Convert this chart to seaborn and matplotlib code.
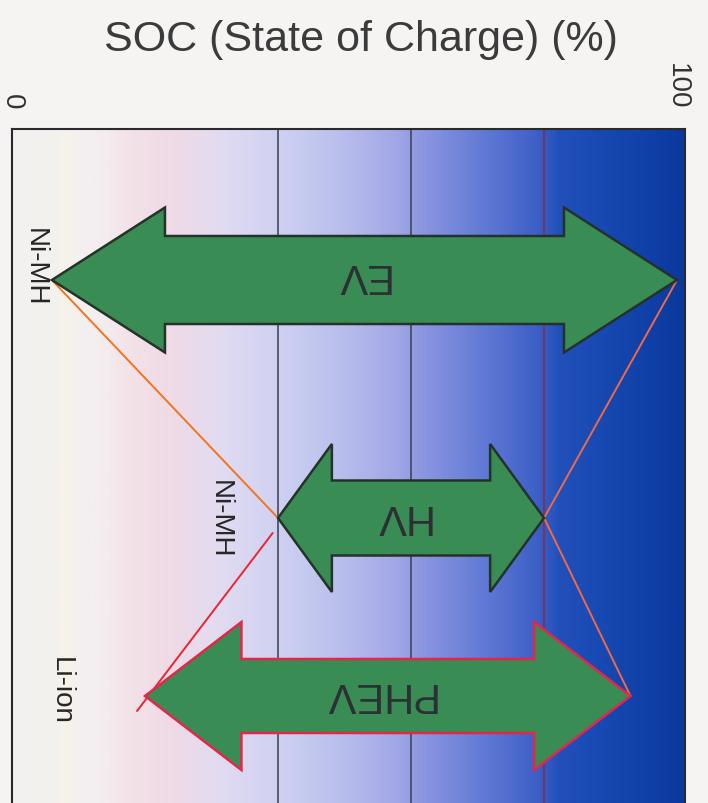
import numpy as np
import pandas as pd
import matplotlib
matplotlib.use("Agg")
import matplotlib.pyplot as plt
from matplotlib.colors import LinearSegmentedColormap
from matplotlib.patches import Polygon
import seaborn as sns

# --- data -------------------------------------------------------------
vehicles = ["EV", "HV", "PHEV"]
soc_low = [6, 40, 20]          # lower end of usable SOC window (%)
soc_high = [100, 80, 93]       # upper end of usable SOC window (%)
chemistry = ["Ni-MH", "Ni-MH", "Li-ion"]
grid_soc = [40, 60, 80]
tick_values = [0, 100]
tick_labels = ["0", "100"]

# --- layout / style ---------------------------------------------------
X_MAX = 101.2
Y_SPAN = 684
row_y = {"EV": 151, "HV": 389, "PHEV": 567}
head_len = {"EV": 17.0, "HV": 8.1, "PHEV": 14.5}
head_half = {"EV": 72.5, "HV": 74, "PHEV": 74}
shaft_half = {"EV": 44, "HV": 37.5, "PHEV": 37}
edge_col = {"EV": "#25322a", "HV": "#25322a", "PHEV": "#e5254a"}
chem_x = {"EV": 3.4, "HV": 31.3, "PHEV": 7.3}
chem_dy = {"EV": -14, "HV": 0, "PHEV": -6}
label_dx = {"EV": -0.6, "HV": -1.6, "PHEV": -1.4}
label_dy = {"EV": -6, "HV": -3, "PHEV": -3}
ARROW_GREEN = "#3a8c55"
TEXT_DARK = "#2c3035"

sns.set_theme(style="white")
plt.rcParams["font.family"] = ["Liberation Sans", "DejaVu Sans"]

fig = plt.figure(figsize=(7.08, 8.04), dpi=100)
fig.patch.set_facecolor("#f6f4f3")
ax = fig.add_axes([12 / 708, -10 / 804, 673 / 708, Y_SPAN / 804])

# background colour ramp across the SOC range
stops = [
    (0.0, "#f3f1f0"), (6.5, "#f4f1ee"), (8.0, "#f7f3ea"), (10.0, "#f3f0f0"),
    (14.0, "#f3ecee"), (18.0, "#f3e1e8"), (24.0, "#efdae6"), (31.0, "#e2dcf1"),
    (39.5, "#d0d1f2"), (44.0, "#c5caf0"), (51.0, "#b5baec"), (58.0, "#a0a6e6"),
    (62.0, "#8a95e0"), (69.0, "#6a80d8"), (79.0, "#3e60c8"), (82.5, "#2250bb"),
    (91.0, "#1546ae"), (97.0, "#0f3fa6"), (X_MAX, "#0a399c"),
]
cmap = LinearSegmentedColormap.from_list(
    "soc_ramp", [(p / X_MAX, c) for p, c in stops])
ramp = np.linspace(0, 1, 600)[None, :]
ax.imshow(ramp, cmap=cmap, aspect="auto", extent=[0, X_MAX, Y_SPAN, 0],
          interpolation="bilinear", zorder=0)

# reference levels
for v in grid_soc:
    col = "#8c2a3a" if v == 80 else "#3c3c4c"
    ax.axvline(v, color=col, lw=1.1, zorder=1)

# links between the SOC windows of the different vehicles
lo = dict(zip(vehicles, soc_low))
hi = dict(zip(vehicles, soc_high))
links = [
    ("a", lo["EV"], row_y["EV"], lo["HV"], row_y["HV"]),
    ("b", hi["EV"], row_y["EV"], hi["HV"], row_y["HV"]),
    ("c", hi["HV"], row_y["HV"], hi["PHEV"], row_y["PHEV"]),
    ("d", lo["HV"] - 0.8, row_y["HV"] + 15, lo["PHEV"] - 1.2, row_y["PHEV"] + 15),
]
rows = []
for name, x0, y0, x1, y1 in links:
    rows.append({"link": name, "soc": x0, "y": y0})
    rows.append({"link": name, "soc": x1, "y": y1})
link_df = pd.DataFrame(rows)
sns.lineplot(data=link_df, x="soc", y="y", hue="link", units="link",
             estimator=None, sort=False, legend=False, lw=1.4, ax=ax,
             palette={"a": "#f2741e", "b": "#f06a48", "c": "#f06a48",
                      "d": "#ea2430"}, zorder=2)

# double-headed arrows for each SOC window
for v, a, b, chem in zip(vehicles, soc_low, soc_high, chemistry):
    yc = row_y[v]
    hl, hh, sh = head_len[v], head_half[v], shaft_half[v]
    pts = [
        (a, yc), (a + hl, yc - hh), (a + hl, yc - sh), (b - hl, yc - sh),
        (b - hl, yc - hh), (b, yc), (b - hl, yc + hh), (b - hl, yc + sh),
        (a + hl, yc + sh), (a + hl, yc + hh),
    ]
    ax.add_patch(Polygon(pts, closed=True, facecolor=ARROW_GREEN,
                         edgecolor=edge_col[v], lw=1.8, joinstyle="miter",
                         zorder=3))
    ax.text((a + b) / 2 + label_dx[v], yc + label_dy[v], v, rotation=180,
            ha="center", va="center", fontsize=30, color=TEXT_DARK, zorder=4)
    ax.text(chem_x[v], yc + chem_dy[v], chem, rotation=-90, ha="center",
            va="center", fontsize=20, color="#262626", zorder=4)

ax.set_xlim(0, X_MAX)
ax.set_ylim(Y_SPAN, 0)
ax.set_yticks([])
ax.xaxis.set_ticks_position("top")
ax.set_xticks(tick_values)
ax.set_xticklabels(tick_labels)
ax.tick_params(axis="x", length=0, pad=15, labelsize=20, labelrotation=-90,
               labelcolor="#333333")
ax.set_xlabel("")
ax.set_ylabel("")
for side in ["left", "top", "right"]:
    ax.spines[side].set_visible(True)
    ax.spines[side].set_color("#2a2a2e")
    ax.spines[side].set_linewidth(1.5)
ax.spines["bottom"].set_visible(False)

fig.text(361 / 708, 1 - 40 / 804, "SOC (State of Charge) (%)", ha="center",
         va="center", fontsize=31, color="#3b3b3b")

fig.savefig("out.png", dpi=100, facecolor=fig.get_facecolor())
